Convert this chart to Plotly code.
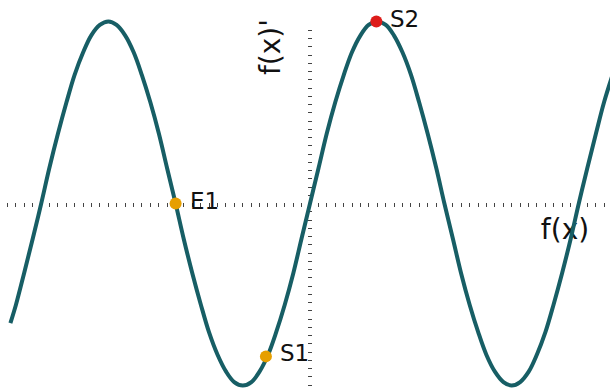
import numpy as np
import plotly.graph_objects as go

# Curve samples (x in radians, y in amplitude units)
curve_x = [-7.00, -6.87, -6.68, -6.48, -6.28, -6.09, -5.89, -5.69, -5.50, -5.30,
           -5.11, -4.91, -4.71, -4.52, -4.32, -4.12, -3.93, -3.73, -3.53, -3.34,
           -3.14, -2.95, -2.75, -2.55, -2.36, -2.16, -1.96, -1.77, -1.57, -1.37,
           -1.18, -0.98, -0.79, -0.59, -0.39, -0.20, 0.00, 0.20, 0.39, 0.59,
           0.79, 0.98, 1.18, 1.37, 1.57, 1.77, 1.96, 2.16, 2.36, 2.55,
           2.75, 2.95, 3.14, 3.34, 3.53, 3.73, 3.93, 4.12, 4.32, 4.52,
           4.71, 4.91, 5.11, 5.30, 5.50, 5.69, 5.89, 6.09, 6.28, 6.48,
           6.68, 6.87, 7.07]
curve_y = [-0.657, -0.556, -0.383, -0.195, 0.000, 0.195, 0.383, 0.556, 0.707, 0.831,
           0.924, 0.981, 1.000, 0.981, 0.924, 0.831, 0.707, 0.556, 0.383, 0.195,
           0.000, -0.195, -0.383, -0.556, -0.707, -0.831, -0.924, -0.981, -1.000, -0.981,
           -0.924, -0.831, -0.707, -0.556, -0.383, -0.195, 0.000, 0.195, 0.383, 0.556,
           0.707, 0.831, 0.924, 0.981, 1.000, 0.981, 0.924, 0.831, 0.707, 0.556,
           0.383, 0.195, 0.000, -0.195, -0.383, -0.556, -0.707, -0.831, -0.924, -0.981,
           -1.000, -0.981, -0.924, -0.831, -0.707, -0.556, -0.383, -0.195, 0.000, 0.195,
           0.383, 0.556, 0.707]

# Marked points
point_names = ["E1", "S1", "S2"]
point_x = [-3.14, -1.03, 1.55]
point_y = [0.00, -0.84, 1.00]
point_colors = ["#E69F00", "#E69F00", "#DD1C1A"]

x_label = "f(x)"
y_label = "f(x)'"

# Layout geometry (pixels)
W, H = 610, 389
ox, oy = 310.0, 203.5          # origin in pixels
kx = 42.8                      # px per radian
ky = 182.0                     # px per amplitude unit

x_range = [-ox / kx, (W - ox) / kx]
y_range = [-(H - oy) / ky, oy / ky]

x_ticks = [i * np.pi / 16 for i in range(-37, 37) if x_range[0] <= i * np.pi / 16 <= x_range[1]]
y_step = 8.25 / ky
y_ticks = [i * y_step for i in range(-22, 22)]

fig = go.Figure()

# Axis label drawn below curve
fig.add_trace(go.Scatter(
    x=[(565 - ox) / kx], y=[(oy - 232) / ky], mode="text", text=[x_label],
    textposition="middle center",
    textfont=dict(family="DejaVu Sans", size=28, color="#111111"),
    hoverinfo="skip", showlegend=False))

fig.add_trace(go.Scatter(
    x=curve_x, y=curve_y, mode="lines",
    line=dict(color="#175E65", width=4, shape="spline", smoothing=1),
    showlegend=False))

fig.add_trace(go.Scatter(
    x=point_x, y=point_y, mode="markers",
    marker=dict(color=point_colors, size=12),
    showlegend=False, cliponaxis=False))

annotations = [dict(text=y_label, xref="paper", yref="paper",
                    x=271 / W, y=1 - 47 / H, textangle=-90,
                    xanchor="center", yanchor="middle", showarrow=False,
                    font=dict(family="DejaVu Sans", size=28, color="#111111"))]
for name, px, py in zip(point_names, point_x, point_y):
    annotations.append(dict(text=name, x=px, y=py, xref="x", yref="y",
                            xanchor="left", yanchor="middle", xshift=12, yshift=3,
                            showarrow=False,
                            font=dict(family="DejaVu Sans", size=23, color="#111111")))

fig.update_layout(
    width=W, height=H,
    margin=dict(l=0, r=0, t=0, b=0),
    paper_bgcolor="white", plot_bgcolor="white",
    xaxis=dict(range=x_range, showgrid=False, zeroline=False, showline=False,
               showticklabels=False, ticks="outside", ticklen=4, tickwidth=1,
               tickcolor="#444444", tickmode="array", tickvals=x_ticks,
               anchor="free", position=1 - 202 / H, layer="below traces"),
    yaxis=dict(range=y_range, showgrid=False, zeroline=False, showline=False,
               showticklabels=False, ticks="outside", ticklen=4, tickwidth=1,
               tickcolor="#444444", tickmode="array", tickvals=y_ticks,
               anchor="free", position=311.5 / W, layer="below traces"),
    annotations=annotations,
)

fig.write_html("out.html", config={"displayModeBar": False},
               post_script="document.body.style.margin='0';document.body.style.overflow='hidden';")
